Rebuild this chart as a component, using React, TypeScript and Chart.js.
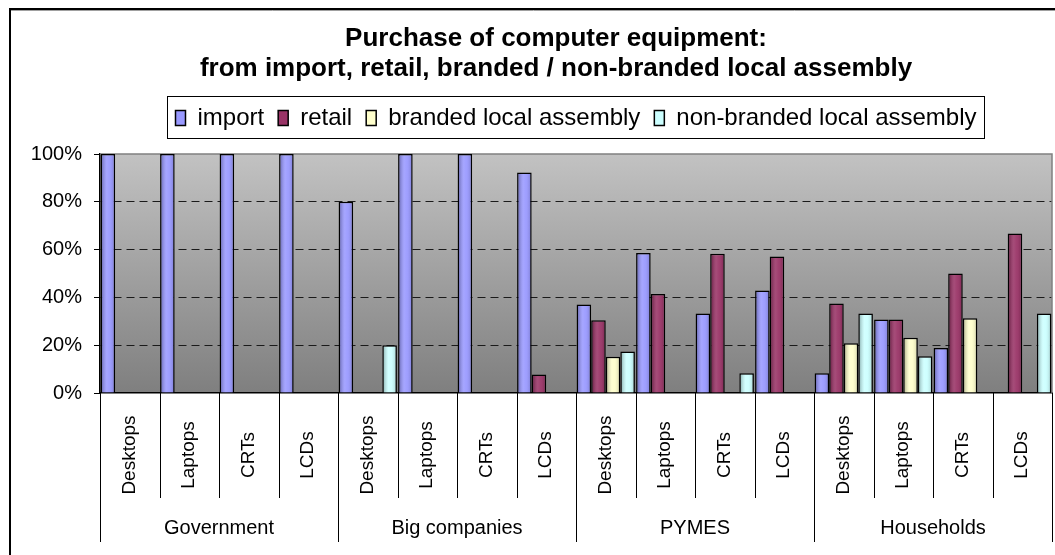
import { useEffect, useRef } from 'react';
import { Chart, registerables } from 'chart.js';

Chart.register(...registerables);

const FONT = "'Liberation Sans', Arial, sans-serif";

const titleLines = [
  'Purchase of computer equipment:',
  'from import, retail, branded / non-branded local assembly',
];
const segments = ['Government', 'Big companies', 'PYMES', 'Households'];
const products = ['Desktops', 'Laptops', 'CRTs', 'LCDs'];
const categories = [
  'Desktops', 'Laptops', 'CRTs', 'LCDs',
  'Desktops', 'Laptops', 'CRTs', 'LCDs',
  'Desktops', 'Laptops', 'CRTs', 'LCDs',
  'Desktops', 'Laptops', 'CRTs', 'LCDs',
];
const seriesNames = ['import', 'retail', 'branded local assembly', 'non-branded local assembly'];
const seriesColors = ['#9999FF', '#993366', '#FFFFCC', '#CCFFFF'];

const importValues = [100, 100, 100, 100, 80, 100, 100, 92.3, 37, 58.6, 33.3, 42.9, 8.3, 30.8, 18.8, null];
const retailValues = [null, null, null, null, null, null, null, 7.7, 30.4, 41.4, 58.3, 57.1, 37.5, 30.8, 50, 66.7];
const brandedValues = [null, null, null, null, null, null, null, null, 15.2, null, null, null, 20.8, 23.1, 31.3, null];
const nonBrandedValues = [null, null, null, null, 20, null, null, null, 17.4, null, 8.3, null, 33.3, 15.4, null, 33.3];

const yTickValues = [0, 20, 40, 60, 80, 100];
const yTickLabels = ['0%', '20%', '40%', '60%', '80%', '100%'];

const seriesValues = [importValues, retailValues, brandedValues, nonBrandedValues];

const plotBackground = {
  id: 'plotBackground',
  afterLayout(chart: any) {
    // let the y-axis labels draw to the left of the axis box without clipping
    if (chart.scales.y) chart.scales.y.left = 0;
  },
  beforeDraw(chart: any) {
    const { ctx, chartArea: a } = chart;
    const g = ctx.createLinearGradient(0, a.top, 0, a.bottom);
    g.addColorStop(0, '#c2c2c2');
    g.addColorStop(1, '#7f7f7f');
    ctx.save();
    ctx.fillStyle = g;
    ctx.fillRect(a.left, a.top, a.right - a.left, a.bottom - a.top);
    ctx.restore();
  },
  beforeDatasetsDraw(chart: any) {
    const { ctx, chartArea: a } = chart;
    ctx.save();
    ctx.strokeStyle = '#808080';
    ctx.lineWidth = 1.5;
    ctx.beginPath();
    ctx.moveTo(a.left, a.top);
    ctx.lineTo(a.right, a.top);
    ctx.lineTo(a.right, a.bottom);
    ctx.stroke();
    ctx.restore();
  },
};

const barShade = {
  id: 'barShade',
  afterDatasetsDraw(chart: any) {
    const ctx = chart.ctx;
    chart.data.datasets.forEach((ds: any, di: number) => {
      const meta = chart.getDatasetMeta(di);
      meta.data.forEach((el: any, i: number) => {
        const v = ds.data[i];
        if (v === null || v === undefined) return;
        const p = el.getProps(['x', 'y', 'base', 'width'], true);
        const bw = 1.5;
        const l = p.x - p.width / 2 + bw;
        const r = p.x + p.width / 2 - bw;
        const t = Math.min(p.y, p.base) + bw;
        const b = Math.max(p.y, p.base);
        if (r <= l || b <= t) return;
        const g = ctx.createLinearGradient(l, 0, r, 0);
        g.addColorStop(0, 'rgba(0,0,0,0.24)');
        g.addColorStop(0.4, 'rgba(255,255,255,0.12)');
        g.addColorStop(0.65, 'rgba(255,255,255,0.06)');
        g.addColorStop(1, 'rgba(0,0,0,0.12)');
        ctx.save();
        ctx.fillStyle = g;
        ctx.fillRect(l, t, r - l, b - t);
        ctx.restore();
      });
    });
  },
};

const decorations = {
  id: 'decorations',
  afterDraw(chart: any) {
    const { ctx, chartArea: a } = chart;
    const xs = chart.scales.x;
    const n = categories.length;
    const w = (xs.right - xs.left) / n;
    ctx.save();
    // category labels (rotated)
    ctx.fillStyle = '#000';
    ctx.font = `19px ${FONT}`;
    ctx.textAlign = 'center';
    ctx.textBaseline = 'middle';
    for (let i = 0; i < n; i++) {
      const cx = xs.getPixelForValue(i);
      ctx.save();
      ctx.translate(cx, a.bottom + 62);
      ctx.rotate(-Math.PI / 2);
      ctx.fillText(categories[i], 0, 0);
      ctx.restore();
    }
    // separators
    ctx.strokeStyle = '#000';
    ctx.lineWidth = 1;
    for (let i = 0; i <= n; i++) {
      const bx = Math.round(xs.left + i * w) + 0.5;
      const len = i % products.length === 0 ? 149 : 105;
      ctx.beginPath();
      ctx.moveTo(bx, a.bottom);
      ctx.lineTo(bx, a.bottom + len);
      ctx.stroke();
    }
    // group labels
    ctx.font = `20px ${FONT}`;
    segments.forEach((s, gi) => {
      const cx = xs.left + (gi * products.length + products.length / 2) * w;
      ctx.fillText(s, cx, a.bottom + 135);
    });
    // legend frame
    const lg = chart.legend;
    if (lg && lg.legendHitBoxes && lg.legendHitBoxes.length) {
      const hbs = lg.legendHitBoxes;
      const l = Math.min(...hbs.map((h: any) => h.left)) - 8;
      const r = Math.max(...hbs.map((h: any) => h.left + h.width)) + 8;
      const t = hbs[0].top - 10;
      const b = hbs[0].top + hbs[0].height + 8;
      ctx.lineWidth = 1;
      ctx.strokeStyle = '#000';
      ctx.strokeRect(Math.round(l) + 0.5, Math.round(t) + 0.5, Math.round(r - l), Math.round(b - t));
    }
    // outer frame
    ctx.strokeStyle = '#000';
    ctx.lineWidth = 2;
    ctx.beginPath();
    ctx.moveTo(10, chart.height + 5);
    ctx.lineTo(10, 9);
    ctx.lineTo(chart.width + 5, 9);
    ctx.stroke();
    ctx.strokeStyle = '#a0a0a0';
    ctx.lineWidth = 1;
    ctx.beginPath();
    ctx.moveTo(11, 10.5);
    ctx.lineTo(chart.width + 5, 10.5);
    ctx.stroke();
    ctx.restore();
  },
};

export default function App() {
  const canvasRef = useRef<HTMLCanvasElement | null>(null);

  useEffect(() => {
    const canvas = canvasRef.current;
    if (!canvas) return;
    Chart.defaults.font.family = FONT;
    Chart.defaults.color = '#000';

    const chart = new Chart(canvas, {
      type: 'bar',
      data: {
        labels: categories,
        datasets: seriesNames.map((name, i) => ({
          label: name,
          data: seriesValues[i],
          backgroundColor: seriesColors[i],
          borderColor: '#000',
          borderWidth: 1.5,
          categoryPercentage: 0.98,
          barPercentage: 1,
        })),
      },
      options: {
        animation: false,
        responsive: true,
        maintainAspectRatio: false,
        layout: { padding: { left: 60, right: 3, top: 0, bottom: 0 } },
        plugins: {
          title: {
            display: true,
            text: titleLines,
            color: '#000',
            font: { size: 26, weight: 'bold', lineHeight: 30 / 26, family: FONT },
            padding: { top: 24, bottom: 8 },
          },
          legend: {
            display: true,
            position: 'top',
            fullSize: false,
            labels: {
              boxWidth: 10,
              boxHeight: 15,
              padding: 14,
              color: '#000',
              font: { size: 24, family: FONT },
            },
          },
          tooltip: { enabled: false },
        },
        scales: {
          x: {
            type: 'category',
            position: 'bottom',
            offset: true,
            grid: { display: false },
            ticks: { display: false },
            border: { display: true, color: '#000', width: 1.5 },
            afterFit: (s: any) => {
              s.height = 162;
            },
          },
          xTop: {
            type: 'category',
            position: 'top',
            display: true,
            grid: { display: false },
            ticks: { display: false },
            border: { display: false },
            afterFit: (s: any) => {
              s.height = 14;
            },
          },
          y: {
            min: 0,
            max: 100,
            afterBuildTicks: (s: any) => {
              s.ticks = yTickValues.map((v) => ({ value: v }));
            },
            ticks: {
              padding: 12,
              color: '#000',
              font: { size: 20, family: FONT },
              callback: (v: any) => {
                const idx = yTickValues.indexOf(Number(v));
                return idx >= 0 ? yTickLabels[idx] : '';
              },
            },
            grid: {
              color: (c: any) =>
                c.tick && (c.tick.value === 0 || c.tick.value === 100) ? 'rgba(0,0,0,0)' : '#1a1a1a',
              lineWidth: 1,
              drawTicks: true,
              tickLength: 6,
              tickColor: '#000',
              tickWidth: 1,
              tickBorderDash: [],
            },
            border: { display: true, color: '#000', width: 1.5, dash: [8, 5] },
            afterFit: (s: any) => {
              s.width = 40;
            },
          },
        },
      } as any,
      plugins: [plotBackground, barShade, decorations],
    });

    return () => chart.destroy();
  }, []);

  return (
    <div style={{ position: 'absolute', left: 0, top: 0, width: 1055, height: 555, overflow: 'hidden', background: '#fff' }}>
      <canvas ref={canvasRef} />
    </div>
  );
}
